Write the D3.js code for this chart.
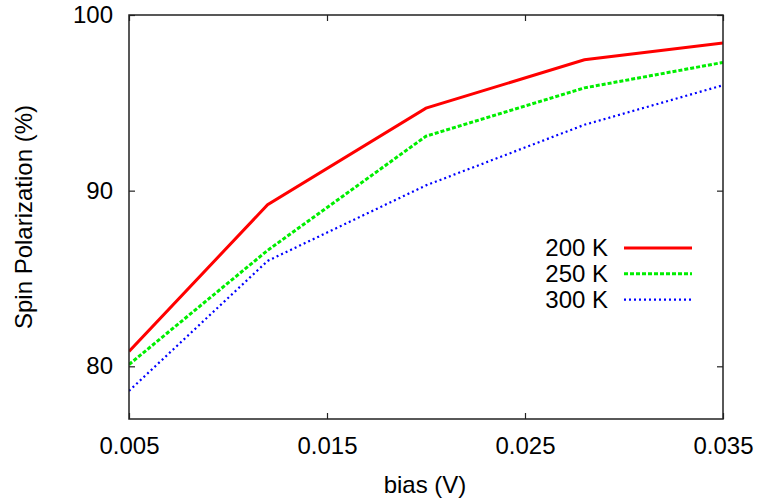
<!DOCTYPE html>
<html>
<head>
<meta charset="utf-8">
<script src="https://cdn.jsdelivr.net/npm/d3@7"></script>
<style>
  body { margin: 0; background: #fff; }
  svg text { font-family: "Liberation Sans", Arial, sans-serif; fill: #000; }
</style>
</head>
<body>
<svg id="chart" width="760" height="501"></svg>
<script>
// bias values (V)
const bias = [0.005, 0.012, 0.020, 0.028, 0.035];
// spin polarization (%) per temperature
const pol200 = [80.85, 89.2, 94.7, 97.45, 98.4];
const pol250 = [80.1, 86.6, 93.1, 95.85, 97.3];
const pol300 = [78.6, 86.0, 90.3, 93.75, 96.0];
const seriesNames = ["200 K", "250 K", "300 K"];
const xTicks = [0.005, 0.015, 0.025, 0.035];
const yTicks = [80, 90, 100];

const FONT = 24;
const margin = {left: 129, right: 37, top: 15, bottom: 82};
const W = 760, H = 501;
const svg = d3.select("#chart");

const x = d3.scaleLinear().domain([0.005, 0.035]).range([margin.left, W - margin.right]);
const y = d3.scaleLinear().domain([77, 100]).range([H - margin.bottom, margin.top]);

const styles = [
    {color: "#ff0000", width: 3, dash: null},
    {color: "#00ee00", width: 3, dash: "4,2"},
    {color: "#0000ff", width: 2.2, dash: "2,3"}
];

const series = [pol200, pol250, pol300].map((vals, i) => ({
    name: seriesNames[i],
    points: bias.map((b, j) => [b, vals[j]]),
    style: styles[i]
}));

// clip lines to plot box
svg.append("clipPath").attr("id", "clip")
    .append("rect")
    .attr("x", x.range()[0]).attr("y", y.range()[1])
    .attr("width", x.range()[1] - x.range()[0])
    .attr("height", y.range()[0] - y.range()[1]);

const line = d3.line().x(d => x(d[0])).y(d => y(d[1]));

svg.append("g").attr("clip-path", "url(#clip)")
    .selectAll("path")
    .data(series)
    .enter()
    .append("path")
        .attr("d", d => line(d.points))
        .attr("fill", "none")
        .attr("stroke", d => d.style.color)
        .attr("stroke-width", d => d.style.width)
        .attr("stroke-dasharray", d => d.style.dash)
        .attr("stroke-linejoin", "miter");

// axes: bottom/top and left/right, ticks pointing inward
const TICK = 6;
svg.append("g")
    .attr("transform", "translate(0," + y.range()[0] + ")")
    .call(d3.axisBottom(x).tickValues(xTicks).tickSizeInner(-TICK).tickSizeOuter(0).tickPadding(18).tickFormat(d3.format(".3f")))
    .call(g => g.selectAll("text").attr("font-size", FONT));
svg.append("g")
    .attr("transform", "translate(0," + y.range()[1] + ")")
    .call(d3.axisTop(x).tickValues(xTicks).tickSizeInner(-TICK).tickSizeOuter(0).tickFormat(""));
svg.append("g")
    .attr("transform", "translate(" + x.range()[0] + ",0)")
    .call(d3.axisLeft(y).tickValues(yTicks).tickSizeInner(-TICK).tickSizeOuter(0).tickPadding(16))
    .call(g => g.selectAll("text").attr("font-size", FONT));
svg.append("g")
    .attr("transform", "translate(" + x.range()[1] + ",0)")
    .call(d3.axisRight(y).tickValues(yTicks).tickSizeInner(-TICK).tickSizeOuter(0).tickFormat(""));

svg.selectAll(".domain").remove();
svg.selectAll(".tick line").attr("stroke", "#222").attr("stroke-width", 1.2);

// frame
svg.append("rect")
    .attr("x", x.range()[0]).attr("y", y.range()[1])
    .attr("width", x.range()[1] - x.range()[0])
    .attr("height", y.range()[0] - y.range()[1])
    .attr("fill", "none")
    .attr("stroke", "#222")
    .attr("stroke-width", 1.5);

// axis titles
svg.append("text")
    .attr("x", 425)
    .attr("y", 493)
    .attr("text-anchor", "middle")
    .attr("font-size", FONT)
    .text("bias (V)");
svg.append("text")
    .attr("transform", "translate(32," + ((y.range()[0] + y.range()[1]) / 2) + ") rotate(-90)")
    .attr("text-anchor", "middle")
    .attr("font-size", FONT)
    .text("Spin Polarization (%)");

// legend
const legend = svg.append("g").selectAll("g")
    .data(series)
    .enter()
    .append("g")
        .attr("transform", (d, i) => "translate(0," + (248 + i * 25.8) + ")");
legend.append("text")
    .attr("x", 608).attr("y", 0).attr("dy", "0.35em")
    .attr("text-anchor", "end")
    .attr("font-size", FONT)
    .text(d => d.name);
legend.append("line")
    .attr("x1", 624).attr("x2", 692)
    .attr("stroke", d => d.style.color)
    .attr("stroke-width", d => d.style.width)
    .attr("stroke-dasharray", d => d.style.dash);
</script>
</body>
</html>
